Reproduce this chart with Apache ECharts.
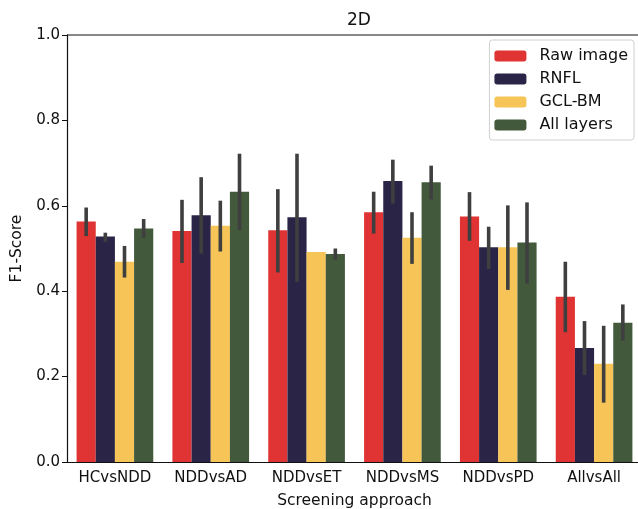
<!DOCTYPE html>
<html>
<head>
<meta charset="utf-8">
<script src="https://cdn.jsdelivr.net/npm/echarts@6/dist/echarts.min.js"></script>
<style>
  html, body { margin: 0; padding: 0; background: #fff; }
  #chart { width: 638px; height: 509px; }
</style>
</head>
<body>
<div id="chart"></div>
<script>
// screening approaches on the x axis
const categories = ['HCvsNDD', 'NDDvsAD', 'NDDvsET', 'NDDvsMS', 'NDDvsPD', 'AllvsAll']
const seriesNames = ['Raw image', 'RNFL', 'GCL-BM', 'All layers']
const colors = ['#e03333', '#2a2546', '#f6c457', '#42593b']

// mean F1 per series
const rawImage = [0.563, 0.541, 0.543, 0.585, 0.575, 0.387]
const rnfl = [0.528, 0.578, 0.573, 0.658, 0.503, 0.267]
const gclBm = [0.469, 0.553, 0.492, 0.525, 0.503, 0.230]
const allLayers = [0.547, 0.633, 0.487, 0.655, 0.514, 0.326]

// error bar low / high per series
const rawLow = [0.529, 0.466, 0.444, 0.535, 0.518, 0.304]
const rawHigh = [0.596, 0.614, 0.639, 0.633, 0.632, 0.469]
const rnflLow = [0.516, 0.488, 0.422, 0.605, 0.452, 0.204]
const rnflHigh = [0.537, 0.667, 0.722, 0.708, 0.551, 0.330]
const gclLow = [0.432, 0.493, 0.492, 0.464, 0.403, 0.139]
const gclHigh = [0.506, 0.612, 0.492, 0.585, 0.601, 0.319]
const allLow = [0.525, 0.543, 0.474, 0.615, 0.418, 0.284]
const allHigh = [0.569, 0.722, 0.500, 0.694, 0.608, 0.369]

const means = [rawImage, rnfl, gclBm, allLayers]
const lows = [rawLow, rnflLow, gclLow, allLow]
const highs = [rawHigh, rnflHigh, gclHigh, allHigh]

let myChart = echarts.init(document.getElementById('chart'))

const font = 'DejaVu Sans'

let series = []
means.forEach((vals, i) => {
    series.push({
        name: seriesNames[i],
        type: 'bar',
        data: vals,
        barGap: '0%',
        barCategoryGap: '20%',
        itemStyle: { color: colors[i] },
        emphasis: { disabled: true }
    })
})
// error bars drawn as a custom series on top
means.forEach((vals, i) => {
    series.push({
        type: 'custom',
        name: 'err' + i,
        z: 10,
        data: categories.map((c, k) => [k, lows[i][k], highs[i][k]]),
        encode: { x: 0, y: [1, 2] },
        renderItem: (params, api) => {
            const k = api.value(0)
            const lo = api.coord([k, api.value(1)])
            const hi = api.coord([k, api.value(2)])
            const band = api.size([1, 0])[0]
            const x = lo[0] + band * 0.2 * (i - 1.5)
            return {
                type: 'line',
                shape: { x1: x, y1: lo[1], x2: x, y2: hi[1] },
                style: { stroke: '#3f3f3f', lineWidth: 3.6 }
            }
        }
    })
})

let option = {
    animation: false,
    textStyle: { fontFamily: font },
    title: {
        text: '2D',
        left: 354,
        textAlign: 'center',
        top: 7,
        textStyle: { fontSize: 17, fontWeight: 'normal', color: '#111', fontFamily: font }
    },
    legend: {
        data: seriesNames,
        orient: 'vertical',
        right: 4,
        top: 40,
        itemWidth: 32,
        itemHeight: 11,
        itemGap: 7,
        padding: [8, 6, 7, 5],
        borderColor: '#d0d0d0',
        borderWidth: 1,
        borderRadius: 3,
        selectedMode: false,
        textStyle: { fontSize: 16, color: '#111', fontFamily: font, padding: [0, 0, 0, 8] }
    },
    grid: { left: 67, right: -4, top: 35, bottom: 47, outerBoundsMode: 'none' },
    xAxis: {
        type: 'category',
        data: categories,
        name: 'Screening approach',
        nameLocation: 'middle',
        nameGap: 31,
        nameTextStyle: { fontSize: 15.5, color: '#111', fontFamily: font },
        axisLine: { lineStyle: { color: '#111', width: 1.2 } },
        axisTick: { alignWithLabel: true, length: 5, lineStyle: { color: '#111' } },
        axisLabel: { fontSize: 15, color: '#111', margin: 9, fontFamily: font, interval: 0, hideOverlap: false }
    },
    yAxis: {
        type: 'value',
        min: 0,
        max: 1,
        interval: 0.2,
        name: 'F1-Score',
        nameLocation: 'middle',
        nameGap: 40,
        nameTextStyle: { fontSize: 15.5, color: '#111', fontFamily: font },
        splitLine: { show: false },
        axisLine: { show: true, lineStyle: { color: '#111', width: 1.2 } },
        axisTick: { show: true, length: 5, lineStyle: { color: '#111' } },
        axisLabel: {
            fontSize: 15, color: '#111', margin: 7, fontFamily: font,
            formatter: v => v.toFixed(1)
        }
    },
    series: series
}
myChart.setOption(option)

// top spine
myChart.setOption({
    graphic: [{
        type: 'line',
        shape: { x1: 67, y1: 35, x2: 638, y2: 35 },
        style: { stroke: '#111', lineWidth: 1.2 }
    }]
})
</script>
</body>
</html>
